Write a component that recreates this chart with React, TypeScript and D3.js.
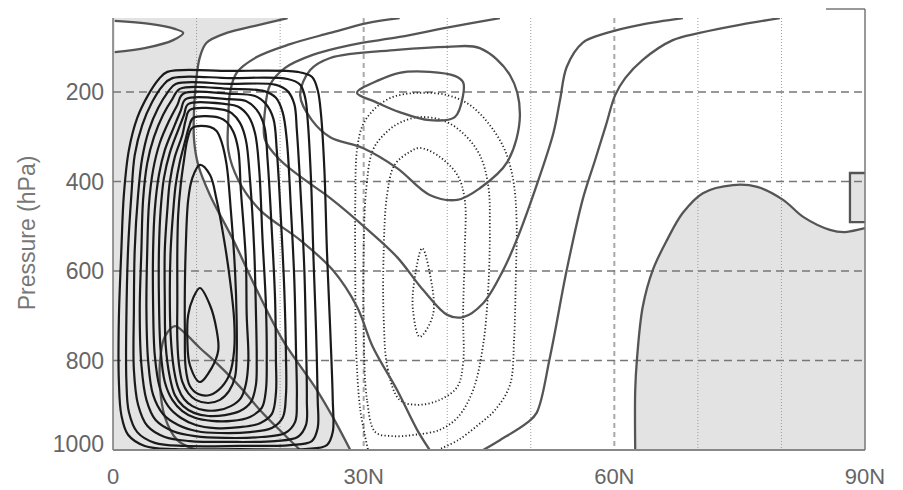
import * as d3 from "d3";

type Pt = [number, number]; // [latitude (deg N), pressure (hPa)]

const LAT_TICKS = [0, 30, 60, 90];
const LAT_LABELS = ["0", "30N", "60N", "90N"];
const P_TICKS = [200, 400, 600, 800, 1000];
const DOTTED_LATS = [10, 20, 40, 50, 70, 80];
const DASHED_LATS = [30, 60];
const DASHED_P = [200, 400, 600, 800];

// Hadley cell streamfunction (positive, solid black), outermost first
const HADLEY: Pt[][] = [
  [[6.5,155],[14.0,153],[22.1,155],[23.8,166],[24.5,196],[24.9,251],[25.3,374],[25.6,553],[26.0,732],[26.3,888],[26.3,960],[25.6,989],[23.0,998],[15.2,998],[7.4,998],[3.8,991],[1.8,966],[1.0,922],[0.7,844],[0.7,709],[1.0,553],[1.3,430],[1.9,330],[2.9,258],[4.2,207],[5.4,173]],
  [[7.1,169],[14.0,169],[20.9,171],[22.4,184],[23.0,213],[23.3,263],[23.7,397],[24.0,575],[24.3,732],[24.5,888],[24.5,951],[23.8,980],[21.2,989],[15.2,991],[8.6,991],[5.0,984],[2.9,960],[1.9,915],[1.6,844],[1.6,709],[1.8,553],[2.2,430],[2.6,341],[3.5,274],[4.7,222],[5.9,187]],
  [[7.5,182],[14.0,182],[19.5,184],[20.9,198],[21.7,227],[22.0,285],[22.5,441],[22.9,598],[23.1,754],[23.2,888],[23.1,944],[22.1,971],[19.4,980],[14.0,982],[9.2,980],[6.2,971],[4.1,946],[3.0,899],[2.5,821],[2.5,687],[2.6,553],[3.0,430],[3.5,347],[4.3,285],[5.4,236],[6.5,202]],
  [[8.0,193],[14.0,193],[18.1,198],[19.5,213],[20.3,245],[20.8,307],[21.3,464],[21.7,620],[21.9,777],[22.0,888],[21.8,937],[20.6,962],[17.8,971],[13.4,973],[9.8,969],[7.2,958],[5.1,933],[4.0,888],[3.4,810],[3.2,687],[3.4,553],[3.6,441],[4.1,359],[4.9,301],[6.0,251],[7.1,216]],
  [[8.4,204],[14.0,204],[17.0,209],[18.3,227],[19.2,260],[19.6,330],[20.1,486],[20.5,642],[20.7,788],[20.7,877],[20.3,928],[19.0,951],[16.4,960],[12.8,962],[10.1,958],[7.8,944],[6.0,920],[4.8,877],[4.2,799],[4.0,687],[4.1,553],[4.3,452],[4.8,374],[5.6,314],[6.7,265],[7.7,229]],
  [[8.7,216],[13.8,216],[15.9,220],[17.2,240],[18.1,276],[18.5,352],[19.0,508],[19.4,665],[19.5,799],[19.5,873],[19.0,920],[17.6,940],[15.2,949],[12.2,951],[9.9,944],[8.1,928],[6.6,902],[5.6,861],[5.0,788],[4.8,676],[4.8,553],[5.0,464],[5.5,385],[6.2,330],[7.3,278],[8.1,242]],
  [[9.0,227],[13.5,227],[15.0,233],[16.2,254],[17.0,292],[17.5,374],[17.9,531],[18.3,676],[18.4,799],[18.3,866],[17.8,906],[16.4,926],[14.2,935],[11.8,935],[9.8,928],[8.3,913],[7.1,888],[6.2,848],[5.7,777],[5.5,665],[5.5,553],[5.7,464],[6.1,392],[6.8,336],[7.8,285],[8.5,251]],
  [[9.2,240],[13.3,240],[14.2,247],[15.2,269],[15.9,307],[16.4,397],[16.9,553],[17.1,687],[17.2,799],[17.1,855],[16.5,893],[15.2,913],[13.4,922],[11.4,924],[9.7,917],[8.4,902],[7.4,877],[6.8,837],[6.3,765],[6.2,665],[6.2,553],[6.5,464],[6.8,401],[7.4,345],[8.3,296],[8.7,263]],
  [[9.6,258],[12.8,258],[13.6,267],[14.4,289],[15.0,330],[15.3,419],[15.9,575],[16.0,698],[16.2,799],[15.9,853],[15.3,884],[14.1,902],[12.6,911],[10.9,911],[9.5,902],[8.5,886],[7.8,861],[7.3,821],[6.9,743],[6.8,642],[6.9,553],[7.2,468],[7.5,408],[8.0,356],[8.6,312],[9.1,278]],
  [[9.5,280],[11.6,278],[12.4,287],[13.0,312],[13.6,363],[14.1,464],[14.6,598],[14.8,709],[14.8,788],[14.6,837],[13.9,868],[12.8,888],[11.4,895],[9.9,888],[9.0,873],[8.3,848],[7.9,810],[7.7,754],[7.7,665],[7.7,553],[7.8,475],[8.1,408],[8.5,352],[8.9,307]],
  [[10.4,363],[11.6,385],[12.4,441],[13.3,531],[14.0,620],[14.5,709],[14.5,777],[14.0,828],[13.0,859],[11.6,877],[10.2,875],[9.2,857],[8.7,817],[8.6,732],[8.6,642],[8.7,553],[9.0,441],[9.5,392]],
  [[10.4,638],[11.6,676],[12.4,732],[12.6,777],[11.8,817],[10.4,848],[9.2,810],[8.9,754],[9.0,698],[9.6,660]],
];

// Zonal wind contours (solid grey), open lines
const WIND_TOPLEFT: Pt[] = [[0.2,41],[4.4,48],[7.4,59],[8.4,68],[7.2,84],[3.8,102],[0.2,111]];
const WIND_ZERO_LEFT: Pt[] = [[20.9,35],[17.0,52],[13.6,68],[11.2,90],[10.4,122],[10.0,166],[9.7,240],[9.7,307],[10.2,363],[11.6,430],[14.4,531],[17.2,642],[20.3,754],[24.4,866],[26.3,926],[28.4,1000]];
const WIND_B: Pt[] = [[34.3,35],[30.4,46],[26.0,68],[21.2,93],[17.2,122],[14.8,157],[14.0,202],[13.8,263],[13.8,330],[15.0,397],[17.6,464],[22.4,531],[26.3,598],[29.2,680],[31.1,770],[34.0,866],[36.4,955],[37.9,1000]];
const WIND_U: Pt[] = [[46.3,35],[40.3,55],[34.3,77],[28.4,95],[23.9,117],[20.6,146],[18.8,184],[18.2,240],[18.2,307],[20.0,352],[23.0,397],[26.0,437],[30.5,508],[34.0,569],[37.1,642],[40.0,698],[41.9,703],[44.3,672],[46.7,598],[48.3,531],[50.5,419],[52.7,292],[53.5,218],[54.3,144],[56.2,90],[59.1,68],[63.1,50],[68.2,35]];
const WIND_C: Pt[] = [[79.8,35],[75.0,50],[70.2,68],[67.0,84],[63.4,128],[61.3,169],[60.1,207],[59.0,274],[57.7,352],[56.2,441],[54.3,598],[52.3,792],[50.7,917],[49.5,940],[46.3,978],[44.3,1000]];
const WIND_HUMP: Pt[] = [[10.0,1000],[7.7,978],[6.2,926],[5.6,850],[5.7,788],[6.2,747],[7.4,723],[8.6,739],[10.4,772],[12.4,806],[15.2,859],[17.6,911],[20.3,962],[22.4,1000]];
const WIND_ZERO_POLAR: Pt[] = [[62.5,1000],[62.5,866],[62.7,799],[63.4,680],[64.6,598],[66.3,531],[68.2,470],[70.6,426],[74.2,408],[77.1,412],[80.2,441],[82.6,479],[85.8,508],[87.6,513],[90,504]];
const WIND_TOPRIGHT: Pt[] = [[83.2,19],[85.3,12]];
const WIND_BRACKET: Pt[] = [[90,381],[88.2,381],[88.2,491],[90,491]];
// closed wind contours
const WIND_LOOP: Pt[] = [[22.4,207],[23.6,151],[26.0,124],[34.0,106],[40.0,99],[43.9,102],[47.5,162],[48.7,251],[47.2,356],[43.9,415],[41.2,441],[37.9,430],[34.0,370],[29.9,325],[26.0,301],[23.8,263]];
const WIND_JET: Pt[] = [[29.2,202],[31.9,173],[34.3,157],[37.9,155],[40.9,164],[41.9,178],[41.9,207],[40.9,256],[37.9,263],[34.3,245],[31.4,222]];

// Ferrel cell streamfunction (negative, dotted)
const FERREL_OUTER: Pt[] = [[30.5,998],[29.6,911],[29.1,777],[29.0,620],[29.0,441],[29.2,330],[29.9,274],[31.4,236],[33.5,211],[36.4,202],[40.0,207],[42.7,229],[45.1,274],[46.9,330],[47.9,397],[48.3,486],[48.2,620],[48.0,754],[47.5,855],[45.7,911],[43.7,944],[41.3,978],[39.1,998]];
const FERREL_CLOSED: Pt[][] = [
  [[31.4,960],[30.4,888],[30.0,732],[30.0,553],[30.3,419],[31.1,330],[32.6,292],[34.3,269],[36.7,256],[39.7,265],[42.1,296],[43.9,341],[44.9,408],[45.1,508],[44.9,642],[44.3,765],[43.1,866],[41.3,926],[39.1,955],[36.1,966],[33.5,969]],
  [[34.3,888],[32.9,821],[32.4,709],[32.4,553],[32.8,430],[33.7,363],[35.5,334],[36.7,325],[38.8,341],[41.2,385],[42.1,441],[42.1,553],[41.9,694],[41.9,806],[41.2,859],[39.1,888],[36.4,899]],
  [[37.0,549],[37.9,604],[38.3,698],[36.7,747],[35.9,687],[36.0,631]],
];

const W = 903, H = 490;
const X0 = 113, X1 = 865, YB = 450;
const FONT = "'Liberation Sans', Arial, sans-serif";
const SHADE = "#e3e3e3";

export default function App() {
  const x = d3.scaleLinear().domain([0, 90]).range([X0, X1]);
  const y = d3.scaleLinear().domain([1000, 0]).range([YB, YB - 447.5]);
  const pTop = y.invert(9);
  const open = d3.line<Pt>().x(d => x(d[0])).y(d => y(d[1])).curve(d3.curveCatmullRom.alpha(0.5));
  const closed = d3.line<Pt>().x(d => x(d[0])).y(d => y(d[1])).curve(d3.curveCatmullRomClosed.alpha(0.5));
  const straight = d3.line<Pt>().x(d => x(d[0])).y(d => y(d[1]));

  const leftShade = open(WIND_ZERO_LEFT) +
    `L${x(0)},${y(1000)}L${x(0)},${y(pTop)}L${x(WIND_ZERO_LEFT[0][0])},${y(pTop)}Z`;
  const leftHole = open(WIND_TOPLEFT) + "Z";
  const polarShade = open(WIND_ZERO_POLAR) + `L${x(90)},${y(1000)}Z`;
  const bracketShade = straight(WIND_BRACKET) + "Z";

  const windOpen = [WIND_TOPLEFT, WIND_ZERO_LEFT, WIND_B, WIND_U, WIND_C, WIND_HUMP, WIND_ZERO_POLAR, WIND_TOPRIGHT];

  return (
    <svg width={W} height={H} style={{ position: "absolute", left: 0, top: 0, background: "#fff" }}>
      <defs>
        <clipPath id="plot"><rect x={X0} y={y(pTop)} width={X1 - X0} height={YB - y(pTop)} /></clipPath>
      </defs>
      <g clipPath="url(#plot)">
        <path d={leftShade} fill={SHADE} />
        <path d={leftHole} fill="#fff" />
        <path d={polarShade} fill={SHADE} />
        <path d={bracketShade} fill={SHADE} />
        {/* grid */}
        {DOTTED_LATS.map(t => (
          <line key={"d" + t} x1={x(t)} x2={x(t)} y1={y(pTop)} y2={YB} stroke="#9a9a9a" strokeWidth={1} strokeDasharray="1 2" />
        ))}
        {DASHED_LATS.map(t => (
          <line key={"v" + t} x1={x(t)} x2={x(t)} y1={y(pTop)} y2={YB} stroke="#a8a8a8" strokeWidth={2} strokeDasharray="5 4" />
        ))}
        {DASHED_P.map(p => (
          <line key={"h" + p} x1={X0} x2={X1} y1={y(p)} y2={y(p)} stroke="#777" strokeWidth={1.3} strokeDasharray="8 5" />
        ))}
        {/* Ferrel cell */}
        <path d={open(FERREL_OUTER) ?? ""} fill="none" stroke="#222" strokeWidth={1.8} strokeDasharray="1.2 2.3" />
        {FERREL_CLOSED.map((c, i) => (
          <path key={"f" + i} d={closed(c) ?? ""} fill="none" stroke="#222" strokeWidth={1.8} strokeDasharray="1.2 2.3" />
        ))}
        {/* zonal wind */}
        {windOpen.map((c, i) => (
          <path key={"w" + i} d={open(c) ?? ""} fill="none" stroke="#555" strokeWidth={2.3} />
        ))}
        <path d={straight(WIND_BRACKET) ?? ""} fill="none" stroke="#555" strokeWidth={2.3} />
        {[WIND_LOOP, WIND_JET].map((c, i) => (
          <path key={"wc" + i} d={closed(c) ?? ""} fill="none" stroke="#555" strokeWidth={2.3} />
        ))}
        {/* Hadley cell */}
        {HADLEY.map((c, i) => (
          <path key={"h" + i} d={closed(c) ?? ""} fill="none" stroke="#1a1a1a" strokeWidth={2.2} />
        ))}
      </g>
      <rect x={0} y={0} width={826} height={18} fill="#fff" />
      {/* frame */}
      <line x1={X0} x2={X0} y1={18} y2={YB} stroke="#777" strokeWidth={1.5} />
      <line x1={X0} x2={X1} y1={YB} y2={YB} stroke="#888" strokeWidth={2} />
      <line x1={X1} x2={X1} y1={y(pTop)} y2={YB} stroke="#777" strokeWidth={1.5} />
      <line x1={826} x2={X1} y1={y(pTop)} y2={y(pTop)} stroke="#777" strokeWidth={1.5} />
      {/* labels */}
      {P_TICKS.map(p => (
        <text key={"yl" + p} x={104} y={p === 1000 ? y(p) - 6 : y(p)} textAnchor="end" dominantBaseline="central"
          fontFamily={FONT} fontSize={23} fill="#666">{p}</text>
      ))}
      {LAT_TICKS.map((t, i) => (
        <text key={"xl" + t} x={x(t)} y={484} textAnchor="middle" fontFamily={FONT} fontSize={22} fill="#666">{LAT_LABELS[i]}</text>
      ))}
      <text transform="translate(27,233) rotate(-90)" textAnchor="middle" dominantBaseline="central"
        fontFamily={FONT} fontSize={23} fill="#777">Pressure (hPa)</text>
    </svg>
  );
}
